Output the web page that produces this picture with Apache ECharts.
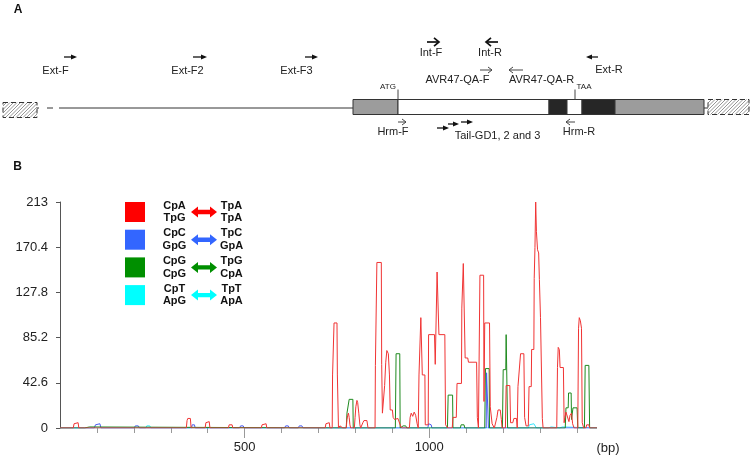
<!DOCTYPE html>
<html><head><meta charset="utf-8">
<script src="https://cdn.jsdelivr.net/npm/echarts@6.0.0/dist/echarts.min.js"></script>
<style>html,body{margin:0;padding:0;background:#fff}#c{width:752px;height:457px}</style>
</head><body><div id="c"></div>
<script>
// ---------- Panel B data (bp, count) ----------
const redTrace = [
 [0,0],[36,0],[38,4],[40,5],[49,5],[51,0],
 [342,0],[344,7],[346,9],[353,9],[355,0],
 [393,0],[395,5],[397,6],[404,6],[406,0],
 [456,0],[458,3],[466,3],[468,0],
 [545,0],[547,3],[549,4],[558,4],[560,0],
 [718,0],[720,4],[722,5],[729,5],[731,0],
 [737,0],[738,50],[741,50],[742,99],[750,99],[751,50],[753,50],[754,0],
 [756,0],[758,2],[763,3],[766,0],
 [775,0],[777,8],[779,12],[781,14],[783,10],[785,3],[787,0],
 [797,0],[799,10],[801,20],[804,26],[806,24],[809,14],[812,3],[814,0],
 [818,0],[820,5],[823,7],[831,7],[834,0],
 [853,0],[854,59],[857,59],[858,156],[870,156],[871,60],[873,14],[877,14],[879,40],[882,62],[885,73],[889,70],[892,50],[894,17],[900,17],[902,10],[906,8],[915,9],[920,9],[922,2],[925,0],
 [946,0],[948,10],[951,14],[955,11],[959,15],[963,12],[967,4],[970,0],
 [971,0],[972,50],[976,50],[977,104],[980,104],[981,50],[988,50],[989,3],[997,3],[998,88],[1014,88],[1016,60],[1020,60],[1021,147],[1025,147],[1026,88],[1042,88],[1044,3],[1050,0],
 [1062,0],[1064,10],[1073,10],[1075,42],[1087,42],[1088,113],[1091,113],[1092,155],[1096,155],[1097,66],[1104,66],[1106,62],[1128,62],[1130,10],[1133,0],
 [1135,0],[1137,144],[1147,144],[1148,25],[1150,99],[1163,99],[1165,20],[1170,4],[1176,0],
 [1181,0],[1183,10],[1186,17],[1192,17],[1195,8],[1197,0],
 [1206,0],[1208,40],[1218,40],[1220,5],[1226,5],[1229,9],[1236,9],[1238,0],
 [1239,0],[1240,39],[1245,39],[1247,70],[1256,70],[1258,10],[1262,2],[1268,2],[1270,39],[1276,39],[1277,74],[1283,74],[1284,141],[1286,170],[1288,213],[1289,213],[1290,185],[1293,168],[1296,165],[1298,140],[1301,104],[1304,104],[1306,9],[1308,0],
 [1345,0],[1347,57],[1349,76],[1352,74],[1354,57],[1363,57],[1365,5],[1367,10],[1370,15],[1375,15],[1378,6],[1381,12],[1385,14],[1388,4],[1392,0],
 [1402,0],[1404,94],[1406,104],[1409,101],[1412,94],[1414,5],[1418,0],[1424,0],[1426,3],[1432,3],[1434,0],[1454,0]
];
const greenTrace = [
 [0,0],[66,0],[68,1],[80,1],[82,0],
 [775,0],[777,14],[782,14],[783,27],[793,27],[794,0],
 [908,0],[910,70],[920,70],[921,0],
 [926,0],[929,2],[936,2],[939,0],
 [1049,0],[1051,31],[1063,31],[1064,0],
 [1084,0],[1086,3],[1094,3],[1096,0],
 [1150,0],[1152,56],[1162,56],[1163,0],
 [1198,0],[1200,55],[1207,55],[1208,88],[1211,88],[1212,0],
 [1368,0],[1370,19],[1376,19],[1377,33],[1384,33],[1385,8],[1389,19],[1400,19],[1402,0],
 [1420,0],[1422,59],[1432,59],[1434,0],[1454,0]
];
const blueTrace = [
 [0,0],[93,0],[96,3],[100,4],[108,4],[111,0],
 [201,0],[204,2],[212,2],[215,0],
 [356,0],[358,3],[361,4],[364,3],[366,0],
 [486,0],[489,2],[496,2],[499,0],
 [608,0],[611,2],[618,2],[621,0],
 [645,0],[648,2],[655,2],[658,0],
 [996,0],[998,4],[1002,5],[1005,3],[1007,0],
 [1154,0],[1155,52],[1159,52],[1160,0],
 [1454,0]
];
const cyanTrace = [
 [0,0],[232,0],[235,2],[243,2],[246,0],
 [1268,0],[1271,3],[1275,4],[1283,4],[1287,3],[1290,0],
 [1322,0],[1325,1],[1330,1],[1332,0],
 [1353,0],[1355,1],[1360,1],[1362,0],
 [1454,0]
];
const xMinorTicks = [100,200,300,400,600,700,800,900,1100,1200,1300,1400];
const xMajorTicks = [500,1000];
const yTicks = [0,42.6,85.2,127.8,170.4,213];
const legendRows = [
 ['CpA','TpG','TpA','TpA'],
 ['CpC','GpG','TpC','GpA'],
 ['CpG','CpG','TpG','CpA'],
 ['CpT','ApG','TpT','ApA']
];

// ---------- Panel A schematic (track units) ----------
const geneParts = [
 ['flankL',3,37],['utr',353,398],['cds',398,549],['dark',549,567],
 ['cds',567,582],['dark',582,615],['utr',615,704],['flankR',708,749]
];
const geneLines = [[37,39],[47,53],[59,353],[704,708]];
const sites = [['ATG',398,388],['TAA',575,584]];
const primers = [
 ['Ext-F',64,77,57,'solid'],['Ext-F2',193,207,57,'solid'],['Ext-F3',305,318,57,'solid'],
 ['Int-F',427,439,42,'bold'],['Int-R',498,486,42,'bold'],
 ['AVR47-QA-F',480,492,70,'thin'],['AVR47-QA-R',523,509,70,'thin'],
 ['Ext-R',598,586,57,'solid'],['Hrm-F',398,406,122,'thin'],
 ['Tail-GD1',437,449,128,'solid'],['Tail-GD2',448,459,124,'solid'],['Tail-GD3',461,473,122,'solid'],
 ['Hrm-R',575,566,122,'thin']
];
const primerLabels = [
 ['Ext-F',55.5,71],['Ext-F2',187.5,71],['Ext-F3',296.5,71],
 ['Int-F',431,53],['Int-R',490,53],
 ['AVR47-QA-F',457.5,80],['AVR47-QA-R',541.5,80],['Ext-R',609,70],
 ['Hrm-F',393,132],['Tail-GD1, 2 and 3',497.5,136],['Hrm-R',579,132]
];

const FONT = '"Liberation Sans", Arial, Helvetica, sans-serif';
const TRACK_Y = 108, BOX_TOP = 99.5, BOX_BOT = 114.5, FLANK_L_SHIFT = 3;
const fills = {utr:'#9c9c9c', cds:'#ffffff', dark:'#262626'};
const legendColors = ['#ff0000','#3366ff','#008f00','#00ffff'];

function txt(text, x, y, size, weight, color) {
  return {type:'text', style:{text, x, y, font:(weight||'normal')+' '+size+'px '+FONT,
    fill:color||'#222', align:'center', verticalAlign:'middle', textAlign:'center', textVerticalAlign:'middle'}};
}
function hatchLines(x0,y0,x1,y1,step){
  const out=[];
  for(let c=x0+y0+step; c<x1+y1; c+=step){
    const xa=Math.max(x0,c-y1), xb=Math.min(x1,c-y0);
    if(xb>xa) out.push({type:'line',shape:{x1:xa,y1:c-xa,x2:xb,y2:c-xb},style:{stroke:'#8a8a8a',lineWidth:0.9}});
  }
  return out;
}

const chart = echarts.init(document.getElementById('c'), null, {renderer:'canvas'});
const option = {
  animation:false,
  backgroundColor:'#fff',
  grid:[
    {left:0, top:0, width:752, height:160},
    {left:60, top:202, width:537, height:226}
  ],
  xAxis:[
    {gridIndex:0, type:'value', min:0, max:752, show:false},
    {gridIndex:1, type:'value', min:0, max:1454, position:'bottom',
     axisLine:{show:false}, splitLine:{show:false},
     axisTick:{show:true, length:5, customValues:xMinorTicks, lineStyle:{color:'#999'}},
     axisLabel:{show:false}},
    {gridIndex:1, type:'value', min:0, max:1454, position:'bottom', offset:0,
     axisLine:{show:false}, splitLine:{show:false},
     axisTick:{show:true, length:10, customValues:xMajorTicks, lineStyle:{color:'#999'}},
     axisLabel:{show:true, customValues:xMajorTicks, margin:13, fontSize:13, fontFamily:FONT, color:'#222',
       formatter:v=>String(Math.round(v))}}
  ],
  yAxis:[
    {gridIndex:0, type:'value', min:0, max:160, inverse:true, show:false},
    {gridIndex:1, type:'value', min:0, max:213, interval:42.6,
     axisLine:{show:true, lineStyle:{color:'#555', width:1}},
     axisTick:{show:true, length:4, lineStyle:{color:'#555'}},
     splitLine:{show:false},
     axisLabel:{margin:12, fontSize:13, fontFamily:FONT, color:'#222',
       customValues: yTicks,
       formatter:v=>String(Math.round(v*10)/10)}}
  ],
  graphic:{elements:[
    txt('A',18,10,12,'bold','#111'),
    txt('B',17.5,167,12,'bold','#111'),
    txt('(bp)',608,448,13,'normal','#222'),
    ...legendRows.flatMap((r,i)=>{
      const cy = 212 + i*27.7, col = legendColors[i];
      return [
        {type:'rect', shape:{x:125,y:cy-10,width:20,height:20}, style:{fill:col}},
        txt(r[0],174.5,cy-6.3,11,'bold','#111'), txt(r[1],174.5,cy+6.3,11,'bold','#111'),
        {type:'polygon', shape:{points:[[191,cy],[198,cy-5.5],[198,cy-2.2],[210,cy-2.2],[210,cy-5.5],[217,cy],[210,cy+5.5],[210,cy+2.2],[198,cy+2.2],[198,cy+5.5]]}, style:{fill:col}},
        txt(r[2],231.5,cy-6.3,11,'bold','#111'), txt(r[3],231.5,cy+6.3,11,'bold','#111')
      ];
    })
  ]},
  series:[
    {type:'custom', xAxisIndex:0, yAxisIndex:0, silent:true, clip:false,
     data: geneLines.map(d=>[d[0],d[1]]),
     renderItem:(p,api)=>{
       const d=geneLines[p.dataIndex];
       const a=api.coord([d[0],TRACK_Y]), b=api.coord([d[1],TRACK_Y]);
       return {type:'line',shape:{x1:a[0],y1:a[1],x2:b[0],y2:b[1]},style:{stroke:'#333',lineWidth:1}};
     }},
    {type:'custom', xAxisIndex:0, yAxisIndex:0, silent:true, clip:false,
     data: geneParts.map(d=>[d[1],d[2]]),
     renderItem:(p,api)=>{
       const [kind,from,to]=geneParts[p.dataIndex];
       const shift = kind==='flankL'?FLANK_L_SHIFT:0;
       const a=api.coord([from,BOX_TOP+shift]), b=api.coord([to,BOX_BOT+shift]);
       const x=a[0], y=a[1], w=b[0]-a[0], h=b[1]-a[1];
       if(kind.startsWith('flank')){
         return {type:'group',children:[
           {type:'rect',shape:{x,y,width:w,height:h},style:{fill:'#ffffff'}},
           ...hatchLines(x,y,x+w,y+h,3.5),
           {type:'rect',shape:{x,y,width:w,height:h},style:{fill:null,stroke:'#333',lineWidth:1,lineDash:[5,3]}}
         ]};
       }
       return {type:'rect',shape:{x,y,width:w,height:h},style:{fill:fills[kind],stroke:'#333',lineWidth:1}};
     }},
    {type:'custom', xAxisIndex:0, yAxisIndex:0, silent:true, clip:false,
     data: sites.map(d=>[d[1],BOX_TOP]),
     renderItem:(p,api)=>{
       const [name,x,lx]=sites[p.dataIndex];
       const a=api.coord([x,89.5]), b=api.coord([x,BOX_TOP]), l=api.coord([lx,87]);
       return {type:'group',children:[
         {type:'line',shape:{x1:a[0],y1:a[1],x2:b[0],y2:b[1]},style:{stroke:'#444',lineWidth:1}},
         txt(name,l[0],l[1],8,'normal','#222')
       ]};
     }},
    {type:'custom', xAxisIndex:0, yAxisIndex:0, silent:true, clip:false,
     data: primers.map(d=>[d[1],d[3]]),
     renderItem:(p,api)=>{
       const [name,x0,x1,yy,st]=primers[p.dataIndex];
       const a=api.coord([x0,yy]), b=api.coord([x1,yy]);
       const y=a[1], s=Math.sign(b[0]-a[0]);
       if(st==='solid'){
         return {type:'group',children:[
           {type:'line',shape:{x1:a[0],y1:y,x2:b[0]-s*5,y2:y},style:{stroke:'#111',lineWidth:1.3}},
           {type:'polygon',shape:{points:[[b[0],y],[b[0]-s*6,y-2.6],[b[0]-s*6,y+2.6]]},style:{fill:'#111'}}
         ]};
       }
       const bold = st==='bold', col = bold?'#111':'#444', lw = bold?1.7:1, hl = bold?5:4, hw = bold?4.2:3;
       return {type:'group',children:[
         {type:'line',shape:{x1:a[0],y1:y,x2:b[0],y2:y},style:{stroke:col,lineWidth:lw}},
         {type:'polyline',shape:{points:[[b[0]-s*hl,y-hw],[b[0],y],[b[0]-s*hl,y+hw]]},style:{stroke:col,lineWidth:lw,fill:null}}
       ]};
     }},
    {type:'custom', xAxisIndex:0, yAxisIndex:0, silent:true, clip:false,
     data: primerLabels.map(d=>[d[1],d[2]]),
     renderItem:(p,api)=>{
       const [name,x,y]=primerLabels[p.dataIndex];
       const c=api.coord([x,y]);
       return txt(name,c[0],c[1],11,'normal','#222');
     }},
    {type:'line', xAxisIndex:1, yAxisIndex:1, data:cyanTrace, showSymbol:false, silent:true,
     lineStyle:{color:'#33e6ff', width:1}, itemStyle:{color:'#33e6ff'}},
    {type:'line', xAxisIndex:1, yAxisIndex:1, data:blueTrace, showSymbol:false, silent:true,
     lineStyle:{color:'#4a5cf0', width:1}, itemStyle:{color:'#4a5cf0'}},
    {type:'line', xAxisIndex:1, yAxisIndex:1, data:greenTrace, showSymbol:false, silent:true,
     lineStyle:{color:'#1f8a1f', width:1}, itemStyle:{color:'#1f8a1f'}},
    {type:'line', xAxisIndex:1, yAxisIndex:1, data:redTrace, showSymbol:false, silent:true,
     lineStyle:{color:'#f03434', width:1}, itemStyle:{color:'#f03434'}}
  ]
};
chart.setOption(option);
</script></body></html>
